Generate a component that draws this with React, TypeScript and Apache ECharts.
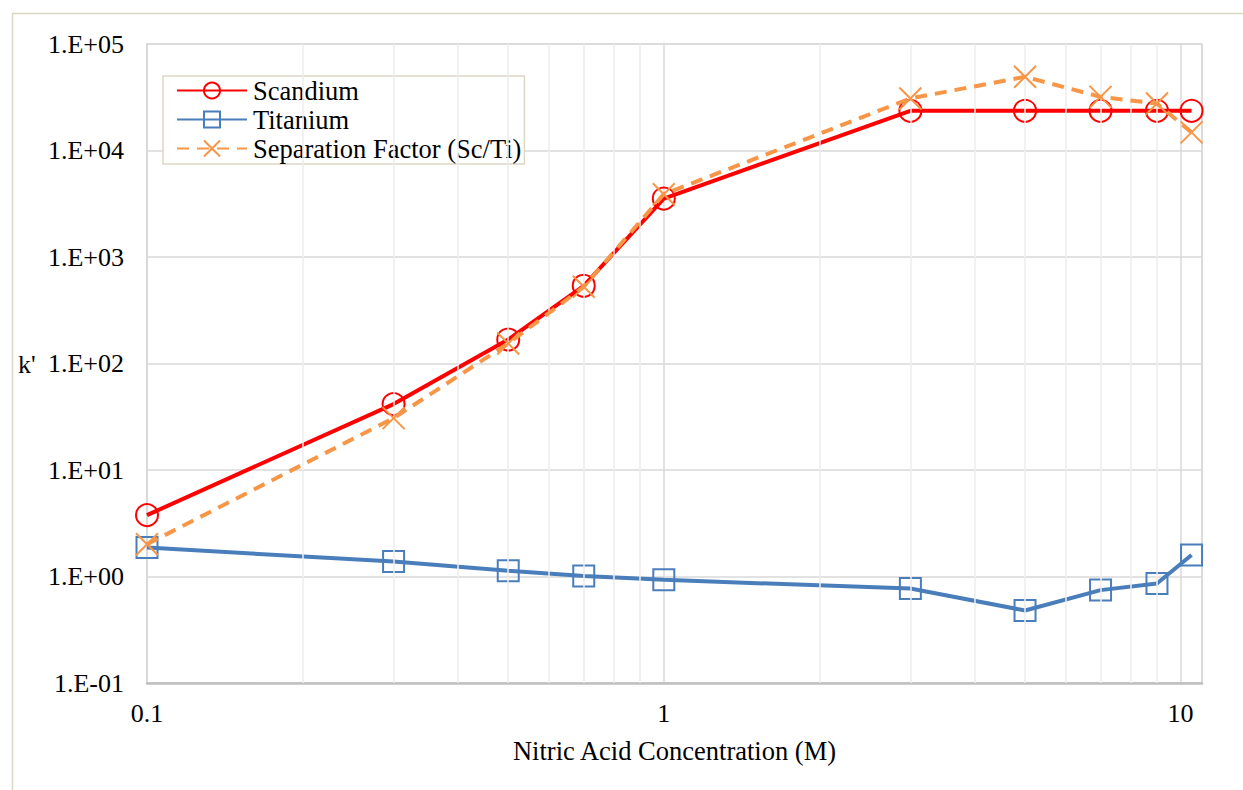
import React, { useEffect, useRef } from "react";
import * as echarts from "echarts";

const concentrations = [0.1, 0.3, 0.5, 0.7, 1, 3, 5, 7, 9, 10.5];
const scandium = [3.77, 41.6, 168, 537, 3540, 23600, 23600, 23600, 23600, 23600];
const titanium = [1.87, 1.38, 1.13, 1.01, 0.93, 0.77, 0.48, 0.745, 0.86, 1.59];
const separation = [2.01, 30.7, 154, 525, 3890, 30800, 49200, 31900, 27600, 14800];
const minorGridX = [0.2, 0.3, 0.4, 0.5, 0.6, 0.7, 0.8, 0.9, 2, 3, 4, 5, 6, 7, 8, 9];
const xTickLabels: Record<string, string> = { "-1": "0.1", "0": "1", "1": "10" };
const yTickLabels = ["1.E-01", "1.E+00", "1.E+01", "1.E+02", "1.E+03", "1.E+04", "1.E+05"];

const FONT = "Liberation Serif";

export default function App() {
  const ref = useRef<HTMLDivElement>(null);
  useEffect(() => {
    const chart = echarts.init(ref.current!, null, { renderer: "svg" });
    const pair = (ys: number[]) => concentrations.map((x, i) => [x, ys[i]]);
    chart.setOption({
      animation: false,
      backgroundColor: "#ffffff",
      textStyle: { fontFamily: FONT },
      grid: {
        left: 147, right: 41, top: 44, bottom: 107,
        show: true, borderColor: "#d9d9d9", borderWidth: 1.5, backgroundColor: "transparent",
      },
      graphic: [
        {
          type: "rect", left: 10, top: 11, z: -10,
          shape: { x: 0, y: 0, width: 1260, height: 800 },
          style: { fill: "none", stroke: "#ddd6c2", lineWidth: 1.5 },
        },
        {
          type: "text", left: 18, top: 351,
          style: { text: "k'", fontFamily: FONT, fontSize: 26, fill: "#000" },
        },
      ],
      legend: {
        orient: "vertical",
        left: 163, top: 76,
        data: ["Scandium", "Titanium", "Separation Factor (Sc/Ti)"],
        itemWidth: 70, itemHeight: 20, itemGap: 2,
        padding: [1, 3, 2, 13],
        backgroundColor: "#fff",
        borderColor: "#ddd6c2", borderWidth: 1.5,
        textStyle: { fontFamily: FONT, fontSize: 26.5, color: "#000", padding: [0, 0, 0, 1] },
      },
      xAxis: {
        type: "log", logBase: 10, min: 0.1, max: 11,
        axisLine: { show: true, lineStyle: { color: "#bfbfbf", width: 2.5 } },
        axisTick: { show: false },
        axisLabel: {
          show: true, showMaxLabel: false, margin: 17,
          fontFamily: FONT, fontSize: 26, color: "#000",
          formatter: (v: number) => xTickLabels[String(Math.round(Math.log10(v)))] ?? "",
        },
        splitLine: { show: true, lineStyle: { color: "#d9d9d9", width: 1.5 } },
        name: "Nitric Acid Concentration (M)",
        nameLocation: "middle", nameGap: 54,
        nameTextStyle: { fontFamily: FONT, fontSize: 26.5, color: "#000" },
      },
      yAxis: {
        type: "log", logBase: 10, min: 0.1, max: 100000,
        axisLine: { show: true, lineStyle: { color: "#d9d9d9", width: 2 } },
        axisTick: { show: false },
        axisLabel: {
          margin: 23, fontFamily: FONT, fontSize: 26, color: "#000",
          formatter: (v: number) => yTickLabels[Math.round(Math.log10(v)) + 1] ?? "",
        },
        splitLine: { show: true, lineStyle: { color: "#d9d9d9", width: 1.5 } },
      },
      series: [
        {
          name: "minor-grid", type: "line", data: [], z: 1, silent: true,
          markLine: {
            silent: true, symbol: ["none", "none"], animation: false,
            label: { show: false },
            lineStyle: { color: "#ececec", width: 1.5, type: "solid" },
            data: minorGridX.map((v) => ({ xAxis: v })),
          },
        },
        {
          name: "Titanium", type: "line", z: 3, data: pair(titanium),
          symbol: "rect", symbolSize: 21,
          lineStyle: { color: "#4a7ebb", width: 4 },
          itemStyle: { color: "transparent", borderColor: "#4a7ebb", borderWidth: 2 },
        },
        {
          name: "Scandium", type: "line", z: 4, data: pair(scandium),
          symbol: "circle", symbolSize: 22,
          lineStyle: { color: "#ff0000", width: 4 },
          itemStyle: { color: "transparent", borderColor: "#ff0000", borderWidth: 2 },
        },
        {
          name: "Separation Factor (Sc/Ti)", type: "line", z: 5, data: pair(separation),
          symbol: "path://M0,0L10,10M10,0L0,10", symbolSize: 22,
          lineStyle: { color: "#f79646", width: 4, type: [12, 8] },
          itemStyle: { color: "transparent", borderColor: "#f79646", borderWidth: 2 },
        },
      ],
    });
    return () => chart.dispose();
  }, []);
  return (
    <div
      ref={ref}
      style={{ position: "fixed", left: 0, top: 0, width: 1243, height: 790 }}
    />
  );
}
